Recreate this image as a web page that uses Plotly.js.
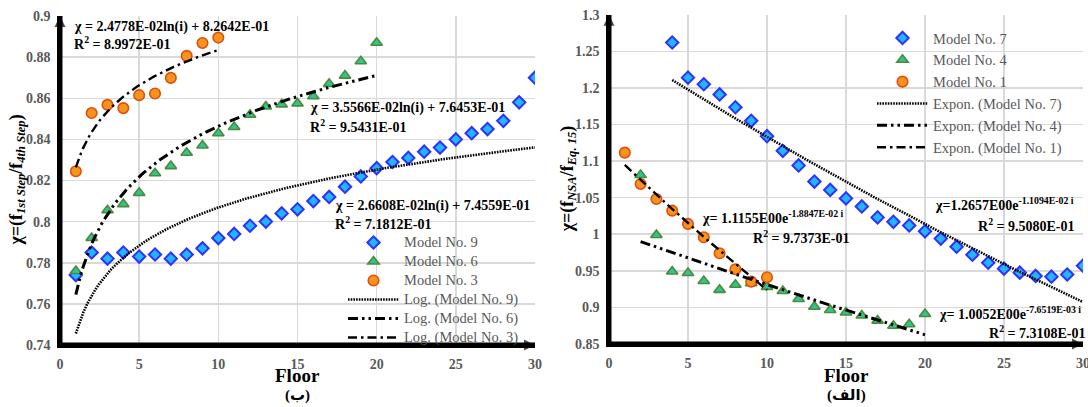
<!DOCTYPE html>
<html>
<head>
<meta charset="utf-8">
<script src="https://cdn.plot.ly/plotly-3.0.1.min.js"></script>
<style>html,body{margin:0;padding:0;background:#fff;}#chart{width:1088px;height:407px;}</style>
</head>
<body>
<div id="chart"></div>
<script>
// ---------- Axis ranges ----------
const xRange = [0, 30];
const yRangeLeft = [0.74, 0.9];
const yRangeRight = [0.85, 1.3];

// ---------- Left chart (ب) data ----------
const floorsModel9 = [1,2,3,4,5,6,7,8,9,10,11,12,13,14,15,16,17,18,19,20,21,22,23,24,25,26,27,28,29,30];
const valuesModel9 = [0.774,0.785,0.782,0.785,0.783,0.784,0.782,0.784,0.787,0.792,0.794,0.798,0.800,0.804,0.806,0.810,0.812,0.817,0.822,0.826,0.829,0.831,0.834,0.836,0.840,0.843,0.845,0.849,0.858,0.870];
const floorsModel6 = [1,2,3,4,5,6,7,8,9,10,11,12,13,14,15,16,17,18,19,20];
const valuesModel6 = [0.776,0.792,0.8055,0.8085,0.814,0.8235,0.827,0.8335,0.837,0.843,0.846,0.852,0.856,0.857,0.8575,0.861,0.867,0.871,0.878,0.887];
const floorsModel3 = [1,2,3,4,5,6,7,8,9,10];
const valuesModel3 = [0.8245,0.8528,0.8568,0.8552,0.8615,0.8623,0.8699,0.8806,0.8869,0.8895];
// log trendline coefficients [a, b] : chi = a*ln(i) + b
const logFitModel9 = [0.026608, 0.74559];
const logFitModel6 = [0.035566, 0.76453];
const logFitModel3 = [0.024778, 0.82642];

// ---------- Right chart (الف) data ----------
const floorsModel7 = [4,5,6,7,8,9,10,11,12,13,14,15,16,17,18,19,20,21,22,23,24,25,26,27,28,29,30];
const valuesModel7 = [1.262,1.214,1.205,1.191,1.1735,1.155,1.134,1.114,1.094,1.072,1.0605,1.049,1.038,1.023,1.017,1.012,1.004,0.994,0.983,0.972,0.961,0.953,0.9475,0.943,0.942,0.945,0.957];
const floorsModel4 = [2,3,4,5,6,7,8,9,10,11,12,13,14,15,16,17,18,19,20];
const valuesModel4 = [1.081,0.999,0.949,0.947,0.936,0.924,0.931,0.933,0.928,0.9225,0.9115,0.901,0.8965,0.893,0.889,0.882,0.875,0.877,0.891];
const floorsModel1 = [1,2,3,4,5,6,7,8,9,10];
const valuesModel1 = [1.1115,1.0687,1.0482,1.0322,1.0141,0.9959,0.974,0.9522,0.9352,0.9412];
// exponential trendline coefficients [a, b] : chi = a*exp(b*i)
const expFitModel7 = [1.2657, -0.011094];
const expFitModel4 = [1.0052, -0.0076519];
const expFitModel1 = [1.1155, -0.018847];

// ---------- helpers ----------
function trendX(xs){ const a=xs[0], b=xs[xs.length-1], out=[]; const n=120; for(let k=0;k<=n;k++) out.push(a+(b-a)*k/n); return out; }
function logY(xs, c){ return xs.map(x => c[0]*Math.log(x)+c[1]); }
function expY(xs, c){ return xs.map(x => c[0]*Math.exp(c[1]*x)); }

const SERIF = 'Liberation Serif, DejaVu Serif, serif';
const diamond = {symbol:'diamond', size:9.5, color:'#1fb8ff', line:{color:'#3030ff', width:2}};
const triangle = {symbol:'triangle-up', size:10, color:'#2ec49a', line:{color:'#4f8a35', width:1.6}};
const circle = {symbol:'circle', size:10.5, color:'#f7941d', line:{color:'#e0500c', width:1.6}};

const dotLine = {color:'#000', width:2.6, dash:'1.6px,1.1px'};
const ddotLine = {color:'#000', width:3, dash:'10px,4px,2.5px,4px,2.5px,4px'};
const dashDotLine = {color:'#000', width:2.4, dash:'9px,4px,2.5px,4px'};

function lg(t, small){ return small ? '<span style="font-size:14.5px">'+t+'</span>' : t; }

const tx9 = trendX(floorsModel9), tx6 = trendX(floorsModel6), tx3 = trendX(floorsModel3);
const tx7 = trendX(floorsModel7), tx4 = trendX(floorsModel4), tx1 = trendX(floorsModel1);

function axisTraces(xa, ya, yr){
  const common = {mode:'lines+markers', xaxis:xa, yaxis:ya, showlegend:false, hoverinfo:'skip', cliponaxis:false,
    line:{color:'#000', width:5}};
  return [
    Object.assign({}, common, {x:[xRange[0], xRange[1]], y:[yr[0], yr[0]],
      marker:{symbol:['circle','arrow-right'], size:[0,11], color:'#000', line:{width:0}}}),
    Object.assign({}, common, {x:[xRange[0], xRange[0]], y:[yr[0], yr[1]],
      marker:{symbol:['circle','arrow-up'], size:[0,11], color:'#000', line:{width:0}}})
  ];
}

const traces = [
  {x:floorsModel9, y:valuesModel9, mode:'markers', marker:diamond, name:lg('Model No. 9',1), xaxis:'x', yaxis:'y', legend:'legend'},
  {x:floorsModel6, y:valuesModel6, mode:'markers', marker:triangle, name:lg('Model No. 6',1), xaxis:'x', yaxis:'y', legend:'legend'},
  {x:floorsModel3, y:valuesModel3, mode:'markers', marker:circle, name:lg('Model No. 3',1), xaxis:'x', yaxis:'y', legend:'legend'},
  {x:tx9, y:logY(tx9, logFitModel9), mode:'lines', line:dotLine, name:lg('Log. (Model No. 9)',1), xaxis:'x', yaxis:'y', legend:'legend'},
  {x:tx6, y:logY(tx6, logFitModel6), mode:'lines', line:ddotLine, name:lg('Log. (Model No. 6)',1), xaxis:'x', yaxis:'y', legend:'legend'},
  {x:tx3, y:logY(tx3, logFitModel3), mode:'lines', line:dashDotLine, name:lg('Log. (Model No. 3)',1), xaxis:'x', yaxis:'y', legend:'legend'},

  {x:floorsModel7, y:valuesModel7, mode:'markers', marker:diamond, name:'Model No. 7', xaxis:'x2', yaxis:'y2', legend:'legend2'},
  {x:floorsModel4, y:valuesModel4, mode:'markers', marker:triangle, name:'Model No. 4', xaxis:'x2', yaxis:'y2', legend:'legend2'},
  {x:floorsModel1, y:valuesModel1, mode:'markers', marker:circle, name:'Model No. 1', xaxis:'x2', yaxis:'y2', legend:'legend2'},
  {x:tx7, y:expY(tx7, expFitModel7), mode:'lines', line:dotLine, name:'Expon. (Model No. 7)', xaxis:'x2', yaxis:'y2', legend:'legend2'},
  {x:tx4, y:expY(tx4, expFitModel4), mode:'lines', line:ddotLine, name:'Expon. (Model No. 4)', xaxis:'x2', yaxis:'y2', legend:'legend2'},
  {x:tx1, y:expY(tx1, expFitModel1), mode:'lines', line:dashDotLine, name:'Expon. (Model No. 1)', xaxis:'x2', yaxis:'y2', legend:'legend2'}
].concat(axisTraces('x','y',yRangeLeft), axisTraces('x2','y2',yRangeRight));

const tickFont = {family:SERIF, size:14, color:'#595959', weight:'bold'};
function xAx(domain, anchor){ return {domain:domain, anchor:anchor, range:xRange, dtick:5, tick0:0, showgrid:true, gridcolor:'#d9d9d9', gridwidth:1.5,
  showline:true, linecolor:'#000', linewidth:2.6, zeroline:false, ticks:'outside', ticklen:5, tickcolor:'rgba(0,0,0,0)', tickfont:tickFont,
  ticklabeloverflow:'allow', automargin:false, fixedrange:true}; }
function yAx(domain, anchor, range, dtick){ return {domain:domain, anchor:anchor, range:range, dtick:dtick, tick0:range[0], showgrid:true, gridcolor:'#d9d9d9', gridwidth:1.5,
  showline:true, linecolor:'#000', linewidth:2.6, zeroline:false, ticks:'outside', ticklen:4, tickcolor:'rgba(0,0,0,0)', tickfont:tickFont, automargin:false, fixedrange:true}; }

const eqFont = {family:SERIF, size:14, color:'#000', weight:'bold'};
function eq(xref, yref, x, y, text){ return {xref:xref, yref:yref, x:x, y:y, text:text, showarrow:false, xanchor:'left', yanchor:'middle', font:eqFont}; }
const titleFont = {family:SERIF, size:19, color:'#000', weight:'bold'};
const subFont = {family:SERIF+', DejaVu Sans', size:15, color:'#000', weight:'bold'};

const annotations = [
  eq('x','y',0.76,0.8947,'χ = 2.4778E-02ln(i) + 8.2642E-01'),
  eq('x','y',0.76,0.8869,'R<sup>2</sup> = 8.9972E-01'),
  eq('x','y',15.67,0.8555,'χ = 3.5566E-02ln(i) + 7.6453E-01'),
  eq('x','y',15.67,0.8466,'R<sup>2</sup> = 9.5431E-01'),
  eq('x','y',17.23,0.8074,'χ = 2.6608E-02ln(i) + 7.4559E-01'),
  eq('x','y',17.23,0.7994,'R<sup>2</sup> = 7.1812E-01'),
  eq('x2','y2',5.76,1.024,'χ= 1.1155E00e<sup>-1.8847E-02 i</sup>'),
  eq('x2','y2',8.97,0.9967,'R<sup>2</sup> = 9.7373E-01'),
  eq('x2','y2',20.49,1.0418,'χ=1.2657E00e<sup>-1.1094E-02 i</sup>'),
  eq('x2','y2',23.23,1.0127,'R<sup>2</sup> = 9.5080E-01'),
  eq('x2','y2',20.74,0.892,'χ= 1.0052E00e<sup>-7.6519E-03 i</sup>'),
  eq('x2','y2',23.92,0.867,'R<sup>2</sup> = 7.3108E-01'),
  {xref:'x domain', yref:'paper', x:0.5, y:1-375.5/407, xanchor:'center', yanchor:'middle', text:'Floor', showarrow:false, font:titleFont},
  {xref:'x domain', yref:'paper', x:0.5, y:1-395/407, xanchor:'center', yanchor:'middle', text:'(ب)', showarrow:false, font:subFont},
  {xref:'x2 domain', yref:'paper', x:0.5, y:1-375.5/407, xanchor:'center', yanchor:'middle', text:'Floor', showarrow:false, font:titleFont},
  {xref:'x2 domain', yref:'paper', x:0.5, y:1-395/407, xanchor:'center', yanchor:'middle', text:'(الف)', showarrow:false, font:subFont},
  {xref:'paper', yref:'y domain', x:17/1088, y:0.5, xanchor:'center', yanchor:'middle', textangle:-90, showarrow:false,
    text:'χ=(f<sub><i>1st Step</i></sub>/f<sub><i>4th Step</i></sub>)', font:{family:SERIF, size:18, color:'#000', weight:'bold'}},
  {xref:'paper', yref:'y2 domain', x:568/1088, y:0.5, xanchor:'center', yanchor:'middle', textangle:-90, showarrow:false,
    text:'χ=(f<sub><i>NSA</i></sub>/f<sub><i>Eq. 15</i></sub>)', font:{family:SERIF, size:18, color:'#000', weight:'bold'}}
];

const layout = {
  width:1088, height:407, margin:{l:0,r:0,t:0,b:0}, paper_bgcolor:'#fff', plot_bgcolor:'#fff',
  xaxis: xAx([60/1088, 535/1088], 'y'),
  yaxis: yAx([1-345/407, 1-16/407], 'x', yRangeLeft, 0.02),
  xaxis2: xAx([609/1088, 1083/1088], 'y2'),
  yaxis2: yAx([1-344/407, 1-14.7/407], 'x2', yRangeRight, 0.05),
  legend: {x:343/1088, y:1-228/407, xanchor:'left', yanchor:'top', bgcolor:'rgba(0,0,0,0)', borderwidth:0, itemwidth:51,
    font:{family:SERIF, size:12, color:'#595959'}, traceorder:'normal'},
  legend2: {x:872/1088, y:1-22/407, xanchor:'left', yanchor:'top', bgcolor:'rgba(0,0,0,0)', borderwidth:0, itemwidth:51,
    font:{family:SERIF, size:14.5, color:'#595959'}, traceorder:'normal'},
  showlegend:true,
  annotations: annotations
};

Plotly.newPlot('chart', traces, layout, {displayModeBar:false, staticPlot:true});
</script>
</body>
</html>
